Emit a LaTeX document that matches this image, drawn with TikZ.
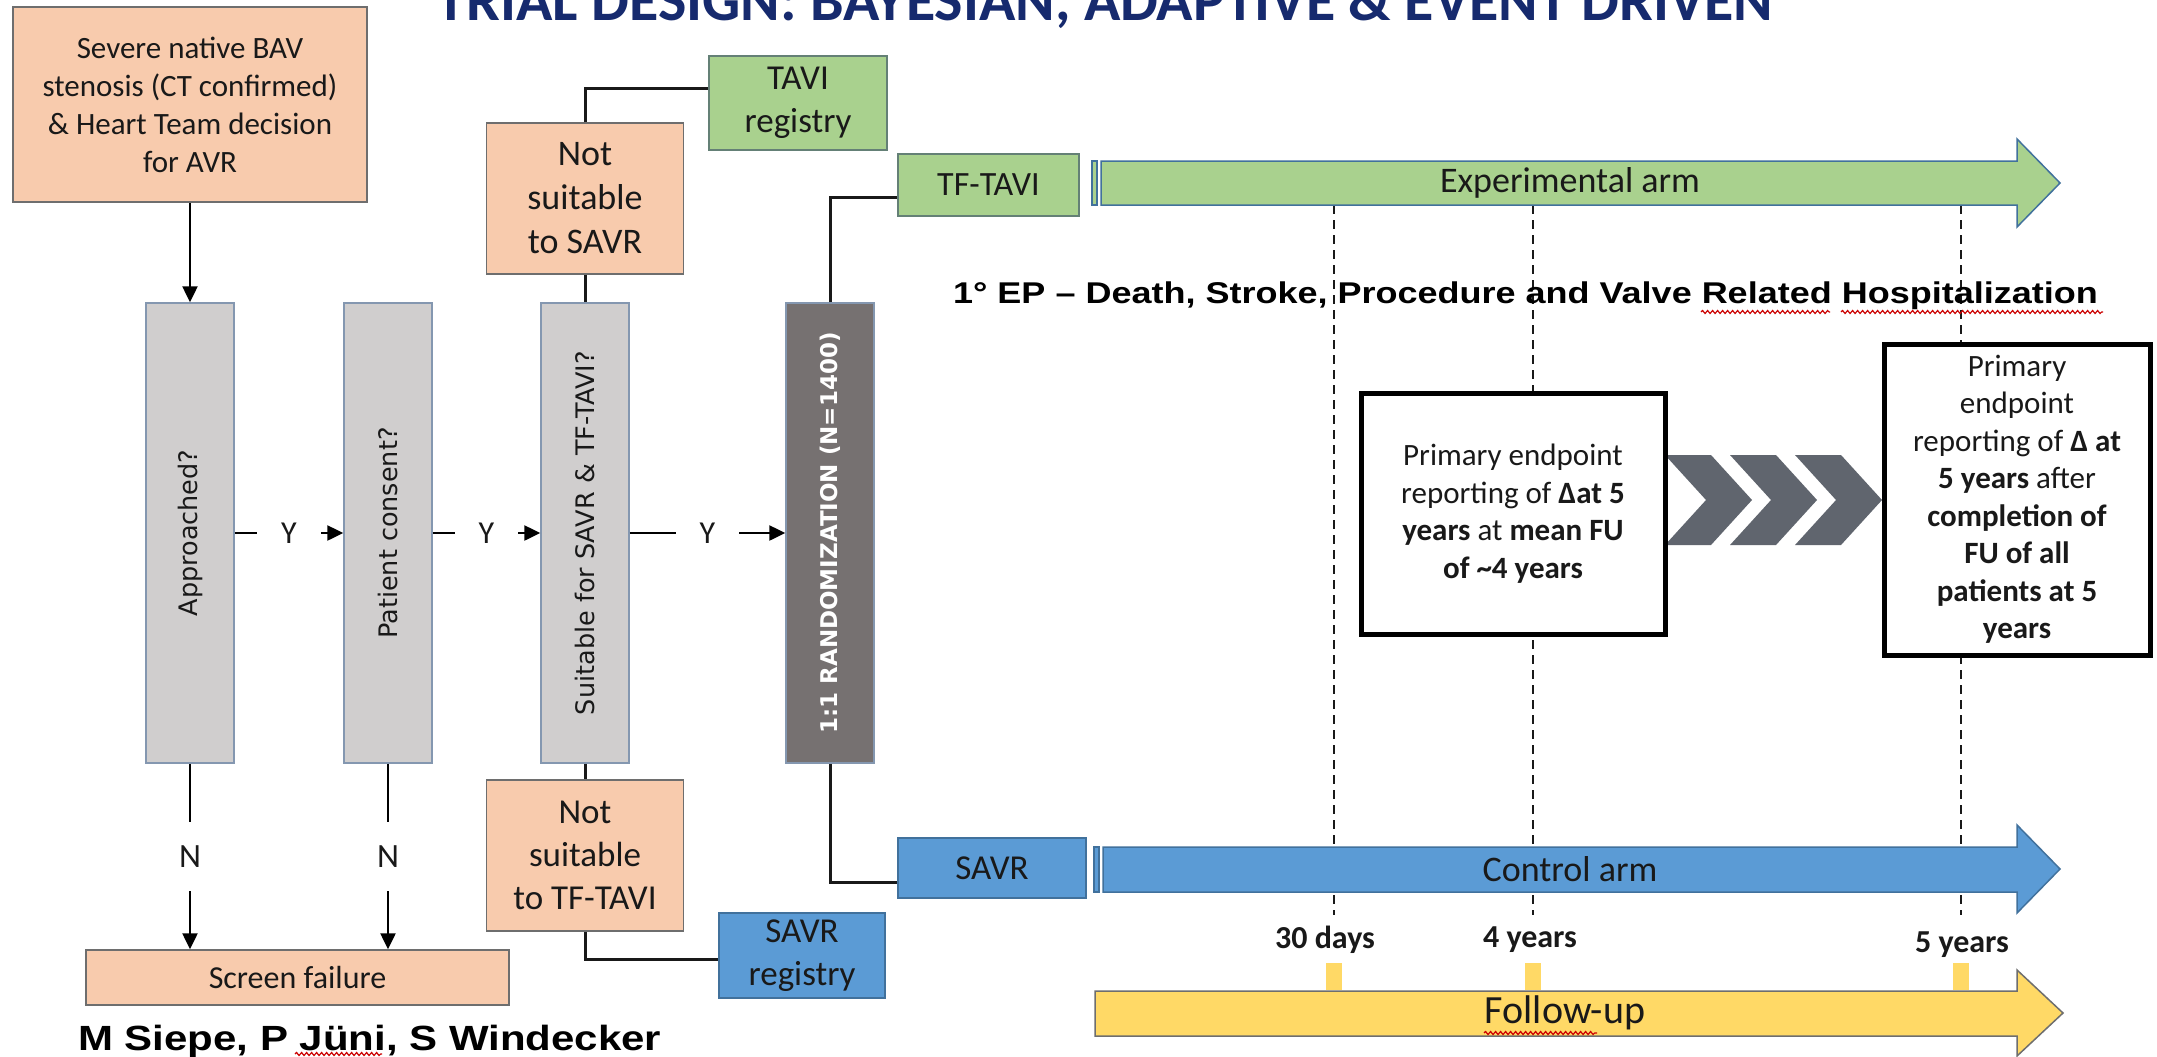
\documentclass[tikz,border=0pt]{standalone}
\usepackage{fontspec}
\setmainfont{Carlito}
\newfontfamily\rotfont{DejaVu Sans}
\newfontfamily\arialfont{Liberation Sans}[FakeStretch=1.2]
\usetikzlibrary{arrows.meta,calc,decorations.pathmorphing}

\definecolor{peach}{RGB}{248,203,173}
\definecolor{colgrey}{RGB}{208,206,206}
\definecolor{coledge}{RGB}{132,151,176}
\definecolor{randgrey}{RGB}{118,113,113}
\definecolor{tavigreen}{RGB}{169,209,142}
\definecolor{greenedge}{RGB}{100,128,118}
\definecolor{savrblue}{RGB}{91,155,213}
\definecolor{blueedge}{RGB}{65,113,156}
\definecolor{fuyellow}{RGB}{255,217,102}
\definecolor{titlenavy}{RGB}{22,42,110}
\definecolor{chevgrey}{RGB}{96,101,110}
\definecolor{boxedge}{RGB}{110,110,110}
\definecolor{inkblack}{RGB}{25,25,25}

\tikzset{every picture/.style={line width=1.5pt}}
\tikzset{
  box/.style={draw=boxedge, line width=1.5pt, inner sep=0pt, align=center, text=inkblack, font=\fontsize{35}{43}\selectfont},
  peachbox/.style={box, fill=peach},
  greenbox/.style={box, fill=tavigreen, draw=greenedge},
  bluebox/.style={box, fill=savrblue, draw=blueedge},
  colbox/.style={box, fill=colgrey, draw=coledge, minimum width=88pt, minimum height=460pt, font=\rotfont\fontsize{25.5}{30}\selectfont},
  randbox/.style={colbox, fill=randgrey, text=white, font=\rotfont\bfseries\fontsize{23}{28}\selectfont},
  epbox/.style={draw=black, line width=5pt, fill=white, inner sep=0pt, align=center, text=inkblack, font=\fontsize{31}{37.5}\selectfont},
  arr/.style={draw=black, line width=2.5pt, -{Triangle[length=16pt,width=15pt]}},
  link/.style={draw=inkblack, line width=3pt},
  ylab/.style={fill=white, inner xsep=24pt, inner ysep=2pt, text=inkblack, font=\fontsize{32}{32}\selectfont},
  nlab/.style={fill=white, inner xsep=2pt, inner ysep=24pt, text=inkblack, font=\fontsize{34}{34}\selectfont},
  guide/.style={draw=inkblack, line width=1.6pt, dash pattern=on 9pt off 6pt},
  armgreen/.style={fill=tavigreen, draw=blueedge, line width=1.5pt},
  armblue/.style={fill=savrblue, draw=blueedge, line width=1.5pt},
  armyellow/.style={fill=fuyellow, draw=boxedge, line width=1.5pt},
  armtext/.style={text=inkblack, font=\fontsize{36}{36}\selectfont},
  ticklab/.style={text=inkblack, font=\bfseries\fontsize{32}{32}\selectfont},
  chev/.style={fill=chevgrey},
  eptext/.style={text=black, font=\arialfont\bfseries\fontsize{30}{30}\selectfont},
  titletext/.style={text=titlenavy, font=\bfseries\fontsize{60}{60}\selectfont},
  squiggle/.style={draw=red!80!black, line width=1.2pt, decorate, decoration={snake, amplitude=1.5pt, segment length=5pt}}
}

\begin{document}
\begin{tikzpicture}[x=1pt,y=1pt,yscale=-1]
\useasboundingbox (0,0) rectangle (2157,1057);
\fill[white] (0,0) rectangle (2157,1057);

% Text Node (title, cut by the frame)
\node[titletext, anchor=base] (title) at (1105,21) {TRIAL DESIGN: BAYESIAN, ADAPTIVE \& EVENT DRIVEN};

%Straight Lines (time marks)
\foreach \gx in {1334,1533,1961}
  \draw[guide] (\gx,205) -- (\gx,915);

%Shape: Rectangle
\node[peachbox, minimum width=354pt, minimum height=195pt, font=\fontsize{31}{38}\selectfont] (avr) at (190,104.5) {Severe native BAV\\stenosis (CT confirmed)\\\& Heart Team decision\\for AVR};

% columns
\node[colbox] (appr) at (190,533) {\rotatebox{90}{Approached?}};
\node[colbox] (cons) at (388,533) {\rotatebox{90}{Patient consent?}};
\node[colbox] (suit) at (585,533) {\rotatebox{90}{Suitable for SAVR \& TF-TAVI?}};
\node[randbox] (rand) at (830,533) {\rotatebox{90}{1:1 RANDOMIZATION (N=1400)}};

%Shape: Rectangle
\node[peachbox, minimum width=197pt, minimum height=151pt, font=\fontsize{36}{44}\selectfont] (nssavr) at (585,198.5) {Not\\suitable\\to SAVR};
\node[peachbox, minimum width=197pt, minimum height=151pt] (nstavi) at (585,855.5) {Not\\suitable\\to TF-TAVI};
\node[greenbox, minimum width=178pt, minimum height=94pt] (tavireg) at (798,103) {TAVI\\registry};
\node[bluebox, minimum width=166pt, minimum height=85pt] (savrreg) at (802,955.5) {SAVR\\registry};
\node[greenbox, minimum width=181pt, minimum height=62pt, font=\fontsize{34}{34}\selectfont] (tftavi) at (988.5,185) {TF-TAVI};
\node[bluebox, minimum width=188pt, minimum height=60pt] (savr) at (992,868) {SAVR};
\node[peachbox, minimum width=423pt, minimum height=55pt, font=\fontsize{32}{32}\selectfont] (fail) at (297.5,977.5) {Screen failure};

%Straight Lines
\draw[arr] (avr) -- (appr);
\draw[arr] (appr) -- node[ylab] (y1) {Y} (cons);
\draw[arr] (cons) -- node[ylab] (y2) {Y} (suit);
\draw[arr] (suit) -- node[ylab] (y3) {Y} (rand);
\draw[arr] (appr) -- node[nlab] (n1) {N} (appr |- fail.north);
\draw[arr] (cons) -- node[nlab] (n2) {N} (cons |- fail.north);
\draw[link] (nssavr) -- (suit);
\draw[link] (suit) -- (nstavi);
\draw[link] (nssavr.north) |- ($(tavireg.north west)!0.35!(tavireg.south west)$);
\draw[link] (nstavi.south) |- ($(savrreg.north west)!0.55!(savrreg.south west)$);
\draw[link] (rand.north) |- ($(tftavi.north west)!0.69!(tftavi.south west)$);
\draw[link] (rand.south) |- ($(savr.north west)!0.73!(savr.south west)$);

%Shape: Right Arrow (experimental arm)
\draw[armgreen] (1092,161) rectangle (1097,205);
\draw[armgreen] (1101,161) -- (2017,161) -- (2017,139) -- (2060,183) -- (2017,227) -- (2017,205) -- (1101,205) -- cycle;
\node[armtext] (exparm) at (1570,183) {Experimental arm};

%Shape: Right Arrow (control arm)
\draw[armblue] (1094,847) rectangle (1099,892);
\draw[armblue] (1103,847) -- (2017,847) -- (2017,825) -- (2060,869) -- (2017,913) -- (2017,892) -- (1103,892) -- cycle;
\node[armtext] (ctrlarm) at (1570,869) {Control arm};

%Shape: Right Arrow (follow-up)
\foreach \tx in {1334,1533,1961}
  \fill[fuyellow] (\tx-8,963) rectangle (\tx+8,990);
\draw[armyellow] (1095,991) -- (2017,991) -- (2017,970) -- (2063,1013) -- (2017,1056) -- (2017,1036) -- (1095,1036) -- cycle;
\node[armtext, font=\fontsize{40}{40}\selectfont] (fu) at (1565,1013) {Follow-up};

% Text Node
\node[ticklab] (d30) at (1325,940) {30 days};
\node[ticklab] (y4) at (1530,940) {4 years};
\node[ticklab] (y5) at (1962,945) {5 years};

% chevrons
\foreach \cx in {1665,1730,1795}
  \fill[chev] (\cx,455) -- ++(46,0) -- ++(41,45) -- ++(-41,45) -- ++(-46,0) -- ++(41,-45) -- cycle;

%Shape: Rectangle
\node[epbox, minimum width=304pt, minimum height=241pt] (ep4) at (1513,513.5) {Primary endpoint\\reporting of \textbf{Δat 5}\\\textbf{years} at \textbf{mean FU}\\\textbf{of \textasciitilde 4 years}};
\node[epbox, minimum width=266pt, minimum height=311pt] (ep5) at (2017,499.5) {Primary\\endpoint\\reporting of \textbf{Δ at}\\\textbf{5 years} after\\\textbf{completion of}\\\textbf{FU of all}\\\textbf{patients at 5}\\\textbf{years}};

% Text Node
\node[eptext, anchor=base west] (ep) at (949,303) {1° EP – Death, Stroke, Procedure and Valve Related Hospitalization};
\node[eptext, font=\arialfont\bfseries\fontsize{35}{35}\selectfont, anchor=base west] (names) at (74,1050) {M Siepe, P Jüni, S Windecker};

% spelling marks
\draw[squiggle] (1701,312) -- (1830,312);
\draw[squiggle] (1841,312) -- (2103,312);
\draw[squiggle] (295,1054) -- (382,1054);
\draw[squiggle] (1484,1033) -- (1597,1033);
\end{tikzpicture}
\end{document}
